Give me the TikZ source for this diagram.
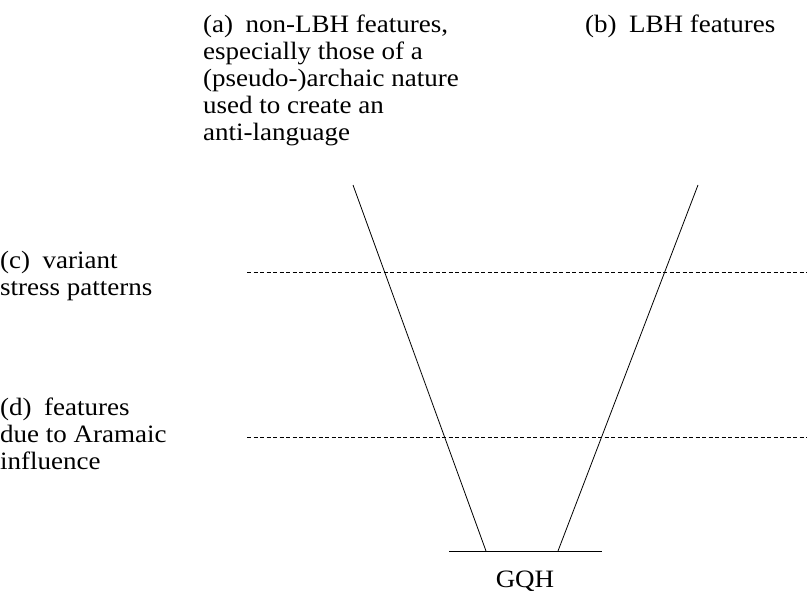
\documentclass[tikz,border=0pt]{standalone}
\usepackage{fontspec}
\setmainfont[FakeStretch=1.08]{Liberation Serif}
\usepackage{tikz}

\begin{document}
\begin{tikzpicture}[x=1pt,y=-1pt]

	\useasboundingbox (0,0) rectangle (807,591);
	\tikzset{lbl/.style={anchor=base west,inner sep=0pt,align=left,font=\fontsize{25}{27}\selectfont},
		ln/.style={line width=0.8pt},
		level/.style={line width=0.8pt,dash pattern=on 4pt off 2.5pt}}

	\coordinate (lt) at (353,185);
	\coordinate (lb) at (486,551);
	\coordinate (rt) at (698,185);
	\coordinate (rb) at (558,551);
	\coordinate (g1) at (449,551);
	\coordinate (g2) at (602,551);
	\coordinate (c1) at (247,272);
	\coordinate (c2) at (807,272);
	\coordinate (d1) at (247,437);
	\coordinate (d2) at (807,437);

	\draw[ln] (lt) -- (lb);
	\draw[ln] (rt) -- (rb);
	\draw[ln] (g1) -- (g2);
	\draw[level] (c1) -- (c2);
	\draw[level] (d1) -- (d2);

	% last line baselines
	\node[lbl] (a) at (203,141) {(a)\enspace non-LBH features,\\especially those of a\\(pseudo-)archaic nature\\used to create an\\anti-language};
	\node[lbl] (b) at (585,33) {(b)\enspace LBH features};
	\node[lbl] (c) at (0,295) {(c)\enspace variant\\stress patterns};
	\node[lbl] (d) at (0,469) {(d)\enspace features\\due to Aramaic\\influence};
	\node[lbl,anchor=base] (gqh) at (525,587) {GQH};

\end{tikzpicture}
\end{document}
